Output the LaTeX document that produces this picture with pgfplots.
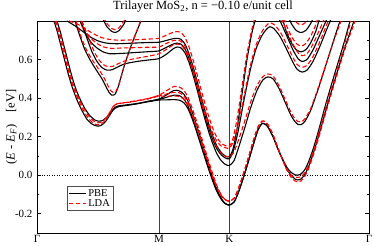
\documentclass[border=0pt]{standalone}
\usepackage{pgfplots}
\pgfplotsset{compat=1.18}
\usepackage{fontspec}
\setmainfont{Liberation Serif}
\usetikzlibrary{calc}
\tikzset{
 pbe/.style={black, line width=1.1pt, smooth, tension=0.4},
 lda/.style={red, line width=1.1pt, dash pattern=on 4.5pt off 2.5pt, smooth, tension=0.4},
}
\begin{document}
\begin{tikzpicture}
\begin{axis}[
 scale only axis, width=332pt, height=212pt,
 xmin=0, xmax=332, ymin=-0.3, ymax=0.8,
 xtick={0,122,192.3,332}, xticklabels={Γ,M,K,Γ},
 ytick={-0.2,0,0.2,0.4,0.6}, yticklabels={-0.2,0.0,0.2,0.4,0.6},
 minor ytick={-0.1,0.1,0.3,0.5,0.7},
 tick align=inside, major tick length=4pt, minor tick length=2.5pt,
 x tick style={draw=none},
 xmajorgrids, x grid style={black!75, line width=0.7pt},
 axis line style={line width=0.8pt},
 y tick style={line width=0.6pt, black},
 ticklabel style={font=\fontsize{11}{12}\selectfont},
 xticklabel style={yshift=1pt},
 yticklabel style={xshift=-1pt},
 ylabel={(\textit{E} - \textit{E}\textsubscript{\textit{F}})\quad[eV]},
 ylabel style={font=\fontsize{12.5}{13}\selectfont, yshift=-9pt},
 title={Trilayer MoS\textsubscript{2}, n = −0.10 e/unit cell},
 title style={font=\fontsize{12.5}{14}\selectfont, yshift=-1pt},
 legend style={at={(0.09,0.104)}, anchor=south west, font=\fontsize{10.5}{11}\selectfont,
   draw=black!70, line width=0.5pt, inner sep=1pt, row sep=-2.5pt},
 legend cell align=left,
]
\coordinate (bl) at (rel axis cs:0,0);
\coordinate (tr) at (rel axis cs:1,1);
\addplot[black, dotted, line width=0.5pt, forget plot] coordinates {(0,0) (332,0)};
% ---------------- PBE ----------------
\addplot[pbe, forget plot] coordinates {(17,0.8)(20,0.75)(23,0.69)(27,0.61)(31,0.53)(35,0.46)(40,0.39)(45,0.335)(50,0.29)(55,0.265)(60,0.255)(64,0.258)(68,0.275)(72,0.305)(75,0.33)(78,0.347)(82,0.356)(90,0.362)(100,0.37)(110,0.38)(122,0.39)(130,0.391)(138,0.392)(143,0.388)(147,0.375)(151,0.345)(155,0.295)(159,0.235)(163,0.17)(167,0.105)(171,0.04)(175,-0.02)(179,-0.075)(183,-0.115)(187,-0.143)(192.3,-0.155)(197,-0.14)(201,-0.095)(205,-0.035)(209,0.03)(213,0.1)(217,0.17)(221,0.235)(225,0.268)(228,0.265)(231,0.25)(236,0.2)(241,0.135)(246,0.075)(250,0.03)(254,0.0)(258,-0.02)(261,-0.025)(264,-0.02)(268,0.005)(272,0.05)(277,0.125)(282,0.21)(288,0.32)(295,0.445)(302,0.565)(309,0.68)(317,0.8)};
\addplot[pbe, forget plot] coordinates {(20,0.8)(23,0.75)(26,0.69)(30,0.61)(34,0.53)(38,0.46)(43,0.395)(48,0.345)(53,0.308)(58,0.286)(62,0.28)(66,0.285)(70,0.302)(74,0.33)(78,0.352)(82,0.36)(90,0.365)(100,0.372)(110,0.382)(122,0.393)(130,0.405)(137,0.415)(142,0.413)(146,0.40)(150,0.37)(154,0.32)(158,0.26)(162,0.195)(166,0.13)(170,0.065)(174,0.005)(178,-0.055)(182,-0.1)(186,-0.135)(189,-0.15)(192.3,-0.155)(197,-0.14)(201,-0.095)(205,-0.035)(209,0.03)(213,0.1)(217,0.17)(221,0.235)(225,0.268)(228,0.265)(231,0.25)(236,0.2)(241,0.135)(246,0.08)(250,0.04)(254,0.015)(258,0.002)(261,0.0)(264,0.006)(268,0.03)(272,0.075)(277,0.15)(282,0.24)(288,0.355)(295,0.48)(302,0.6)(308,0.705)(313,0.8)};
\addplot[pbe, forget plot] coordinates {(110,0.382)(122,0.395)(130,0.418)(137,0.44)(142,0.438)(146,0.425)(150,0.395)(154,0.345)(158,0.285)(162,0.22)(166,0.15)(170,0.08)(174,0.015)(178,-0.05)(182,-0.098)(186,-0.135)(189,-0.15)(192.3,-0.155)};
\addplot[pbe, forget plot] coordinates {(38,0.8)(43,0.72)(48,0.65)(54,0.59)(60,0.54)(65,0.5)(69,0.46)(72,0.43)(75,0.415)(78,0.42)(81,0.455)(84,0.51)(88,0.58)(94,0.67)(100,0.75)(104,0.8)};
\addplot[pbe, forget plot] coordinates {(44,0.8)(50,0.71)(55,0.64)(60,0.59)(65,0.558)(70,0.545)(75,0.547)(80,0.56)(88,0.578)(100,0.59)(112,0.598)(122,0.605)(130,0.63)(136,0.655)(140,0.665)(144,0.66)(148,0.635)(152,0.585)(156,0.52)(160,0.445)(164,0.365)(168,0.29)(172,0.22)(176,0.16)(180,0.11)(184,0.077)(188,0.057)(192.3,0.05)(197,0.075)(202,0.15)(208,0.25)(214,0.355)(220,0.44)(226,0.495)(231,0.51)(236,0.5)(242,0.45)(248,0.38)(254,0.31)(258,0.278)(261,0.263)(264,0.262)(268,0.28)(274,0.34)(282,0.46)(290,0.59)(297,0.705)(303,0.8)};
\addplot[pbe, forget plot] coordinates {(43,0.8)(48,0.74)(54,0.69)(60,0.66)(66,0.64)(73,0.63)(85,0.632)(100,0.637)(112,0.641)(122,0.645)(130,0.665)(136,0.68)(140,0.685)(144,0.68)(148,0.655)(152,0.605)(156,0.54)(160,0.465)(164,0.385)(168,0.31)(172,0.24)(176,0.18)(180,0.135)(184,0.107)(188,0.09)(192.3,0.085)(196,0.12)(201,0.225)(207,0.39)(213,0.54)(219,0.655)(225,0.725)(230,0.76)(233,0.77)(237,0.76)(243,0.72)(249,0.66)(255,0.595)(260,0.55)(265,0.535)(270,0.545)(276,0.59)(283,0.67)(290,0.76)(294,0.81)};
\addplot[pbe, forget plot] coordinates {(30,0.8)(38,0.775)(46,0.745)(54,0.715)(62,0.695)(70,0.685)(80,0.682)(95,0.685)(110,0.688)(122,0.69)(130,0.7)(136,0.708)(140,0.71)(144,0.705)(148,0.68)(152,0.63)(156,0.565)(160,0.49)(164,0.41)(168,0.335)(172,0.26)(176,0.2)(180,0.15)(184,0.12)(188,0.1)(192.3,0.095)(196,0.135)(200,0.24)(205,0.42)(210,0.6)(215,0.74)(220,0.83)(226,0.87)(232,0.875)(238,0.85)(244,0.79)(250,0.72)(256,0.65)(261,0.605)(265,0.59)(270,0.6)(276,0.65)(283,0.73)(289,0.8)(292,0.84)};
\addplot[pbe, forget plot] coordinates {(65,0.82)(70,0.77)(75,0.745)(78,0.74)(82,0.75)(87,0.785)(90,0.82)};
\addplot[pbe, forget plot] coordinates {(244,0.84)(249,0.75)(254,0.69)(259,0.652)(264,0.64)(269,0.652)(274,0.69)(279,0.75)(284,0.84)};
\addplot[pbe, forget plot] coordinates {(250,0.84)(254,0.79)(259,0.752)(264,0.74)(269,0.752)(274,0.79)(278,0.84)};
% ---------------- LDA ----------------
\addplot[lda, forget plot] coordinates {(18,0.8)(21,0.75)(24,0.69)(28,0.61)(32,0.53)(36,0.46)(41,0.395)(46,0.34)(51,0.297)(56,0.271)(60,0.262)(64,0.265)(68,0.283)(72,0.315)(75,0.345)(78,0.365)(82,0.372)(90,0.377)(100,0.385)(110,0.395)(122,0.41)(130,0.41)(138,0.411)(143,0.407)(147,0.393)(151,0.362)(155,0.313)(159,0.255)(163,0.19)(167,0.125)(171,0.06)(175,0.0)(179,-0.055)(183,-0.097)(187,-0.123)(192.3,-0.135)(197,-0.12)(201,-0.075)(205,-0.015)(209,0.05)(213,0.12)(217,0.19)(221,0.25)(225,0.28)(228,0.278)(231,0.262)(236,0.21)(241,0.14)(246,0.075)(250,0.025)(254,-0.01)(258,-0.03)(261,-0.035)(264,-0.03)(268,-0.005)(272,0.04)(277,0.115)(282,0.2)(288,0.31)(295,0.435)(302,0.555)(309,0.67)(318,0.8)};
\addplot[lda, forget plot] coordinates {(19,0.8)(22,0.75)(25,0.69)(29,0.61)(33,0.53)(37,0.46)(42,0.395)(47,0.345)(52,0.305)(57,0.28)(61,0.272)(65,0.277)(69,0.296)(73,0.328)(76,0.355)(80,0.37)(90,0.378)(100,0.387)(110,0.397)(122,0.412)(130,0.422)(137,0.43)(142,0.428)(146,0.415)(150,0.387)(154,0.34)(158,0.28)(162,0.215)(166,0.15)(170,0.085)(174,0.02)(178,-0.037)(182,-0.085)(186,-0.117)(189,-0.13)(192.3,-0.135)(197,-0.12)(201,-0.075)(205,-0.015)(209,0.05)(213,0.12)(217,0.19)(221,0.25)(225,0.28)(228,0.278)(231,0.262)(236,0.21)(241,0.14)(246,0.075)(250,0.03)(254,0.0)(258,-0.01)(261,-0.012)(264,-0.008)(268,0.015)(272,0.06)(277,0.135)(282,0.225)(288,0.34)(295,0.465)(302,0.585)(308,0.69)(314,0.8)};
\addplot[lda, forget plot] coordinates {(110,0.395)(122,0.415)(130,0.44)(137,0.46)(142,0.458)(146,0.445)(150,0.415)(154,0.365)(158,0.305)(162,0.24)(166,0.17)(170,0.1)(174,0.035)(178,-0.028)(182,-0.08)(186,-0.115)(189,-0.13)(192.3,-0.135)};
\addplot[lda, forget plot] coordinates {(39,0.8)(44,0.72)(49,0.655)(55,0.6)(61,0.555)(66,0.515)(70,0.475)(73,0.443)(76,0.43)(79,0.437)(82,0.47)(85,0.525)(89,0.595)(95,0.685)(101,0.765)(104,0.81)};
\addplot[lda, forget plot] coordinates {(45,0.8)(51,0.72)(56,0.655)(61,0.605)(66,0.575)(71,0.563)(76,0.565)(81,0.578)(89,0.595)(100,0.607)(112,0.618)(122,0.63)(130,0.655)(136,0.675)(140,0.68)(144,0.675)(148,0.65)(152,0.6)(156,0.535)(160,0.46)(164,0.385)(168,0.315)(172,0.25)(176,0.19)(180,0.145)(184,0.115)(188,0.1)(192.3,0.095)(197,0.12)(202,0.19)(208,0.285)(214,0.385)(220,0.465)(226,0.512)(231,0.525)(236,0.515)(242,0.465)(248,0.395)(254,0.325)(258,0.292)(261,0.278)(264,0.277)(268,0.293)(274,0.35)(282,0.465)(290,0.59)(297,0.7)(304,0.8)};
\addplot[lda, forget plot] coordinates {(44,0.8)(49,0.745)(55,0.705)(61,0.68)(67,0.665)(74,0.658)(85,0.66)(100,0.662)(112,0.664)(122,0.665)(130,0.685)(136,0.698)(140,0.70)(144,0.695)(148,0.67)(152,0.62)(156,0.555)(160,0.48)(164,0.405)(168,0.335)(172,0.27)(176,0.215)(180,0.175)(184,0.152)(188,0.143)(192.3,0.14)(196,0.17)(201,0.26)(207,0.41)(213,0.56)(219,0.675)(225,0.745)(230,0.78)(233,0.79)(237,0.782)(243,0.745)(249,0.685)(255,0.62)(260,0.575)(265,0.56)(270,0.57)(276,0.615)(283,0.695)(290,0.785)(293,0.83)};
\addplot[lda, forget plot] coordinates {(32,0.8)(40,0.785)(48,0.76)(56,0.735)(64,0.715)(72,0.705)(82,0.7)(95,0.702)(110,0.706)(122,0.71)(130,0.728)(136,0.741)(140,0.745)(144,0.74)(148,0.715)(152,0.665)(156,0.6)(160,0.525)(164,0.445)(168,0.37)(172,0.3)(176,0.24)(180,0.195)(184,0.167)(188,0.154)(192.3,0.15)(196,0.19)(200,0.29)(205,0.46)(210,0.63)(215,0.76)(220,0.85)(226,0.89)(232,0.895)(238,0.87)(244,0.815)(250,0.745)(256,0.68)(261,0.635)(265,0.62)(270,0.63)(276,0.68)(283,0.76)(288,0.82)};
\addplot[lda, forget plot] coordinates {(66,0.82)(71,0.78)(75,0.76)(78,0.755)(82,0.765)(87,0.8)(90,0.83)};
\addplot[lda, forget plot] coordinates {(245,0.85)(250,0.77)(255,0.715)(260,0.68)(264,0.67)(268,0.68)(273,0.715)(278,0.77)(283,0.85)};
\addplot[lda, forget plot] coordinates {(252,0.86)(256,0.82)(260,0.79)(264,0.78)(268,0.79)(272,0.82)(276,0.86)};
\addlegendimage{black, line width=1.1pt}
\addlegendentry{PBE}
\addlegendimage{red, line width=1.1pt, dash pattern=on 4.5pt off 2.5pt}
\addlegendentry{LDA}
\end{axis}
\pgfresetboundingbox
\path ($(bl)+(-37pt,-13pt)$) rectangle ($(tr)+(5pt,21pt)$);
\end{tikzpicture}
\end{document}
